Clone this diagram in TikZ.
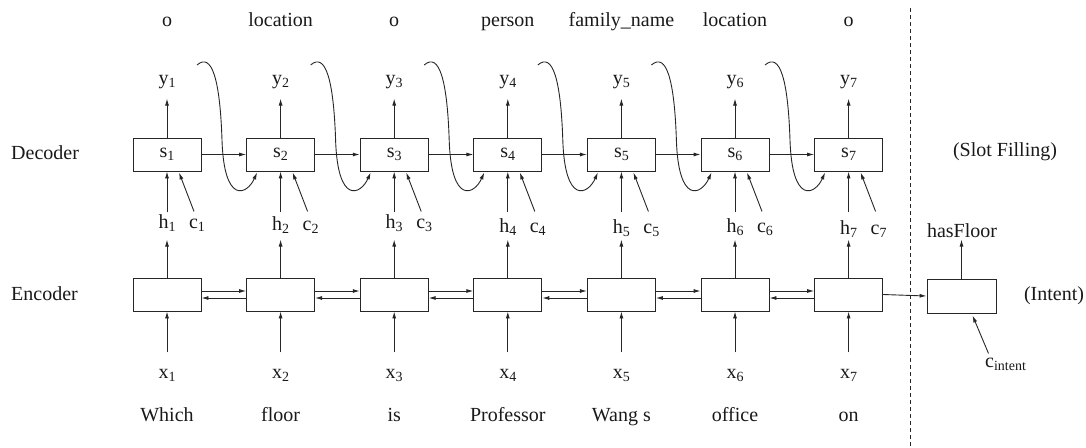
\documentclass[tikz,border=0pt]{standalone}
\usepackage{fontspec}
\setmainfont{Liberation Serif}
\usetikzlibrary{arrows.meta,calc}
% letter with a lowered, smaller index
\newcommand{\lbl}[2]{#1\raisebox{-3pt}{\fontsize{14}{14}\selectfont #2}}
\begin{document}
\begin{tikzpicture}[x=1pt,y=-1pt,
  every node/.style={font=\fontsize{20}{22}\selectfont, inner sep=0pt, text=black!90},
  cell/.style={draw=black!85, line width=0.9pt, minimum width=68pt, minimum height=33pt},
  lab/.style={anchor=base},
  arr/.style={draw=black!85, line width=0.9pt, -{Latex[length=7pt,width=4pt]}},
  link/.style={draw=black!85, line width=0.9pt}]
\useasboundingbox (0,0) rectangle (1086,447);

% row titles
\node[anchor=base west] (dec) at (11,159) {Decoder};
\node[anchor=base west] (enc) at (11,300) {Encoder};

\foreach \i/\tag/\word/\hb in {1/o/Which/228, 2/location/floor/230, 3/o/is/228,
    4/person/Professor/232, 5/family\_name/Wang s/233, 6/location/office/232, 7/o/on/234}{
  \pgfmathsetmacro{\X}{167+113.6*(\i-1)}
  % decoder and encoder cells
  \node[cell] (s\i) at (\X,154.5) {\lbl{s}{\i}};
  \node[cell] (e\i) at (\X,294.5) {};
  % labels
  \node[lab] (t\i) at (\X,27) {\tag};
  \node[lab] (y\i) at (\X,84) {\lbl{y}{\i}};
  \node[lab] (h\i) at (\X,\hb) {\lbl{h}{\i}};
  \node[lab] (c\i) at (\X+30,\hb) {\lbl{c}{\i}};
  \node[lab] (x\i) at (\X,378) {\lbl{x}{\i}};
  \node[lab] (w\i) at (\X,421) {\word};
  % vertical arrows
  \draw[arr] (s\i.north) -- ++(0,-39);
  \draw[arr] ($(s\i.south)+(0,41)$) -- (s\i.south);
  \draw[arr] ($(s\i.south)+(27,40)$) -- ($(s\i.south)+(12,1)$);
  \draw[arr] (e\i.north) -- ++(0,-38);
  \draw[arr] ($(e\i.south)+(0,41)$) -- (e\i.south);
}

% recurrent links between neighbouring cells
\foreach \i [evaluate=\i as \j using int(\i+1)] in {1,...,6}{
  \draw[arr] (s\i.east) -- (s\j.west);
  \draw[arr] ([yshift=3.5pt]e\i.east) -- ([yshift=3.5pt]e\j.west);
  \draw[arr] ([yshift=-3.5pt]e\j.west) -- ([yshift=-3.5pt]e\i.east);
  % previous output fed into the next decoder step
  \draw[arr] ($(s\i)+(30,-89.5)$) .. controls ($(s\i)+(45,-102.5)$) and ($(s\i)+(53,-74.5)$) ..
    ($(s\i)+(55,-14.5)$) .. controls ($(s\i)+(57,50.5)$) and ($(s\i)+(80,40.5)$) ..
    ($(s\j.south)+(-23.5,1)$);
}

% separator
\draw[link, dashed, dash pattern=on 4pt off 3pt] (910,8) -- (910,447);

% intent branch
\node[cell, minimum width=69pt, minimum height=34pt] (int) at (961.5,296) {};
\draw[arr] (e7.east) -- (int.west);
\node[lab] (hf) at (962,237) {hasFloor};
\draw[arr] (int.north) -- ++(0,-39);
\node[anchor=base west] (ci) at (985,367) {c\raisebox{-3pt}{\fontsize{14}{14}\selectfont intent}};
\draw[arr] ($(int.south)+(27,40)$) -- ($(int.south)+(11,2)$);

\node[lab] (slot) at (1005,156) {(Slot Filling)};
\node[lab] (intent) at (1054,300) {(Intent)};
\end{tikzpicture}
\end{document}
